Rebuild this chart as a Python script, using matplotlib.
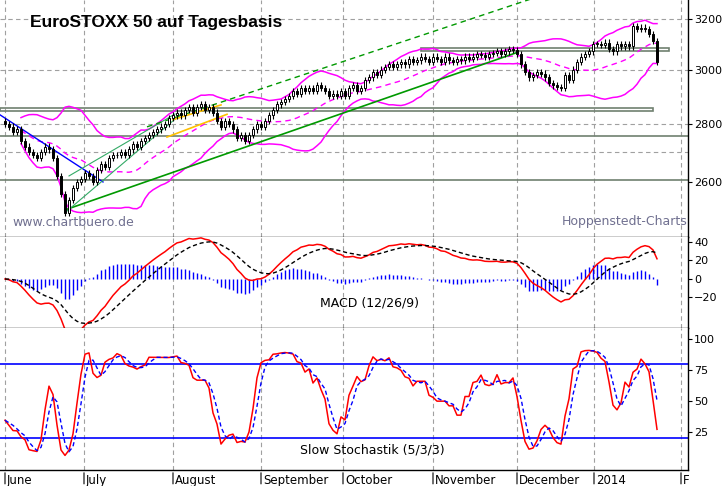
import numpy as np
import pandas as pd
import matplotlib
matplotlib.use("Agg")
import matplotlib.pyplot as plt
from matplotlib.ticker import FixedLocator, NullFormatter, NullLocator

# Tagesschlusskurse EuroSTOXX 50, Juni 2013 bis Ende Januar 2014
closes = [
    2800, 2790, 2770, 2780, 2740, 2720, 2700, 2690, 2680, 2700, 2720, 2710,
    2680, 2620, 2560, 2500, 2540, 2580, 2600, 2610, 2630, 2620, 2600, 2640,
    2660, 2650, 2680, 2690, 2690, 2700, 2690, 2710, 2730, 2720, 2740, 2750,
    2760, 2770, 2780, 2790, 2800, 2820, 2830, 2840, 2830, 2850, 2860, 2840,
    2860, 2870, 2850, 2860, 2840, 2810, 2790, 2810, 2800, 2780, 2750, 2760,
    2740, 2760, 2780, 2800, 2790, 2810, 2830, 2850, 2870, 2880, 2890, 2900,
    2920, 2910, 2930, 2920, 2930, 2920, 2940, 2930, 2920, 2900, 2910, 2900,
    2920, 2900, 2930, 2940, 2920, 2930, 2960, 2970, 2990, 2980, 3000, 3010,
    3020, 3010, 3020, 3030, 3020, 3040, 3030, 3035, 3050, 3040, 3030, 3050,
    3040, 3030, 3050, 3035, 3030, 3040, 3035, 3050, 3040, 3050, 3060, 3055,
    3050, 3060, 3065, 3070, 3060, 3070, 3080, 3075, 3060, 3020, 2990, 2970,
    2980, 2990, 2985, 2970, 2950, 2940, 2935, 2930, 2980, 2960, 3000, 3030,
    3050, 3060, 3070, 3100, 3100, 3095, 3105, 3080, 3070, 3100, 3090, 3100,
    3090, 3170, 3160, 3165, 3160, 3140, 3110, 3030,
]
first_open = 2810

month_labels = ["June", "July", "August", "September", "October",
                "November", "December", "2014", "F"]
month_starts = [0, 19.75, 42, 64, 84.5, 107, 128, 147.25, 169]

price_ticks = [2600, 2800, 3000, 3200]
macd_ticks = [-20, 0, 20, 40]
stoch_ticks = [25, 50, 75, 100]

# Trendlinien: (Index, Kurs) Anfang/Ende
blue_line = ([-1.25, 24.5], [2832, 2600])
green_line = ([15, 128], [2509, 3066])
green_thin1 = ([15, 43.75], [2500, 2832])
green_thin2 = ([16, 42.5], [2620, 2835])
green_dashed = ([35.5, 140], [2789, 3330])
yellow1 = ([40.5, 55.5], [2753, 2834])
yellow2 = ([42, 54], [2815, 2868])
box_upper = (104, 166, 3070, 3085)
box_lower = (-1.25, 162, 2845, 2856)
hlines = [2755, 2608]

c = pd.Series(closes, dtype=float)
o = c.shift(1).fillna(first_open)
hi = np.maximum(o, c) * 1.004
lo = np.minimum(o, c) * 0.996
x = np.arange(len(c))

ma = c.rolling(20, min_periods=5).mean()
sd = c.rolling(20, min_periods=5).std()
bb_up = ma + 2 * sd
bb_lo = ma - 2 * sd

ema12 = c.ewm(span=12, adjust=False).mean()
ema26 = c.ewm(span=26, adjust=False).mean()
macd = ema12 - ema26
signal = macd.ewm(span=9, adjust=False).mean()
hist = macd - signal

hh = pd.Series(hi).rolling(5, min_periods=1).max()
ll = pd.Series(lo).rolling(5, min_periods=1).min()
raw_k = 100 * (c - ll) / (hh - ll)
slow_k = raw_k.rolling(3, min_periods=1).mean()
slow_d = slow_k.rolling(3, min_periods=1).mean()

W, H = 723, 486
fig = plt.figure(figsize=(W / 100, H / 100), dpi=100)
right = 688 / W
def box(top, bottom):
    return [0, 1 - bottom / H, right, (bottom - top) / H]

ax1 = fig.add_axes(box(0, 237))
ax2 = fig.add_axes(box(237, 328))
ax3 = fig.add_axes(box(328, 470))
xlim = (-1.25, 170.75)

grid_kw = dict(color="#a0a0a0", lw=0.8, ls=(0, (4, 3)))
for ax in (ax1, ax2, ax3):
    ax.set_xlim(*xlim)
    for m in month_starts:
        ax.axvline(m, zorder=0, **grid_kw)
    ax.spines["left"].set_visible(False)
    ax.spines["top"].set_visible(False)
    ax.yaxis.tick_right()
    ax.tick_params(axis="y", labelsize=8, length=3, pad=1.5, direction="out")
    ax.set_xticks([])
    for s in ax.spines.values():
        s.set_linewidth(1.0)

# Hauptchart
ax1.set_yscale("log")
ax1.set_ylim(2424, 3278)
ax1.yaxis.set_major_locator(FixedLocator(price_ticks))
ax1.yaxis.set_minor_locator(NullLocator())
ax1.yaxis.set_minor_formatter(NullFormatter())
ax1.set_yticklabels([str(t) for t in price_ticks])
for p in [3200, 3000, 2800, 2700]:
    ax1.axhline(p, zorder=0, **grid_kw)
for p in hlines:
    ax1.axhline(p, color="#708070", lw=1.2, zorder=1)
for (x0, x1, y0, y1) in [box_upper, box_lower]:
    ax1.add_patch(plt.Rectangle((x0, y0), x1 - x0, y1 - y0, fill=False,
                                ec="#708070", lw=1.2, zorder=1))
ax1.plot(x, bb_up, color="#ff00ff", lw=1.1, zorder=2)
ax1.plot(x, bb_lo, color="#ff00ff", lw=1.1, zorder=2)
ax1.plot(x, ma, color="#ff00ff", lw=1.0, ls=(0, (4, 3)), zorder=2)
ax1.plot(*blue_line, color="#0000ff", lw=1.0, zorder=2)
ax1.plot(*green_line, color="#009900", lw=1.2, zorder=2)
ax1.plot(*green_thin1, color="#33aa66", lw=0.8, zorder=2)
ax1.plot(*green_thin2, color="#33aa66", lw=0.8, zorder=2)
ax1.plot(*green_dashed, color="#009900", lw=1.0, ls=(0, (4, 3)), zorder=2)
ax1.plot(*yellow1, color="#ffc000", lw=1.2, zorder=2)
ax1.plot(*yellow2, color="#ffc000", lw=1.2, zorder=2)

ax1.vlines(x, lo, hi, color="black", lw=0.8, zorder=3)
up = c >= o
ax1.bar(x[up], (c - o)[up].clip(lower=2), bottom=o[up], width=0.7,
        color="white", edgecolor="black", lw=0.7, zorder=4)
ax1.bar(x[~up], (o - c)[~up], bottom=c[~up], width=0.7,
        color="black", edgecolor="black", lw=0.7, zorder=4)

ax1.text(30 / 688, 1 - 22 / 237, "EuroSTOXX 50 auf Tagesbasis", transform=ax1.transAxes,
         fontsize=12.5, fontweight="bold", va="center", family="Liberation Sans")
ax1.text(12 / 688, 1 - 222 / 237, "www.chartbuero.de", transform=ax1.transAxes,
         fontsize=9, color="#707090", va="center")
ax1.text(562 / 688, 1 - 222 / 237, "Hoppenstedt-Charts", transform=ax1.transAxes,
         fontsize=9, color="#707090", va="center")

# MACD
ax2.set_ylim(-53, 45.4)
ax2.set_yticks(macd_ticks)
ax2.vlines(x, 0, hist, color="#0000ff", lw=1.0)
ax2.plot(x, macd, color="red", lw=1.1)
ax2.plot(x, signal, color="black", lw=1.0, ls=(0, (3, 2)))
ax2.text(320 / 688, 1 - 66 / 91, "MACD (12/26/9)", transform=ax2.transAxes,
         fontsize=9, va="center")

# Stochastik
ax3.set_ylim(-5.6, 108.9)
ax3.set_yticks(stoch_ticks)
ax3.axhline(80, color="#0000ff", lw=1.2)
ax3.axhline(20, color="#0000ff", lw=1.2)
ax3.plot(x, slow_k, color="red", lw=1.1)
ax3.plot(x, slow_d, color="#0000ff", lw=1.0, ls=(0, (3, 2)))
ax3.text(300 / 688, 1 - 122 / 142, "Slow Stochastik (5/3/3)", transform=ax3.transAxes,
         fontsize=9, va="center")

for m, lab in zip(month_starts, month_labels):
    ax3.annotate("", xy=(m, 0), xycoords=("data", "axes fraction"),
                 xytext=(0, -12), textcoords="offset points",
                 arrowprops=dict(arrowstyle="-", color="black", lw=0.8))
    ax3.annotate(lab, xy=(m, 0), xycoords=("data", "axes fraction"),
                 xytext=(1.5, -7.5), textcoords="offset points",
                 fontsize=8.5, va="center", ha="left")

fig.savefig("out.png", dpi=100)
